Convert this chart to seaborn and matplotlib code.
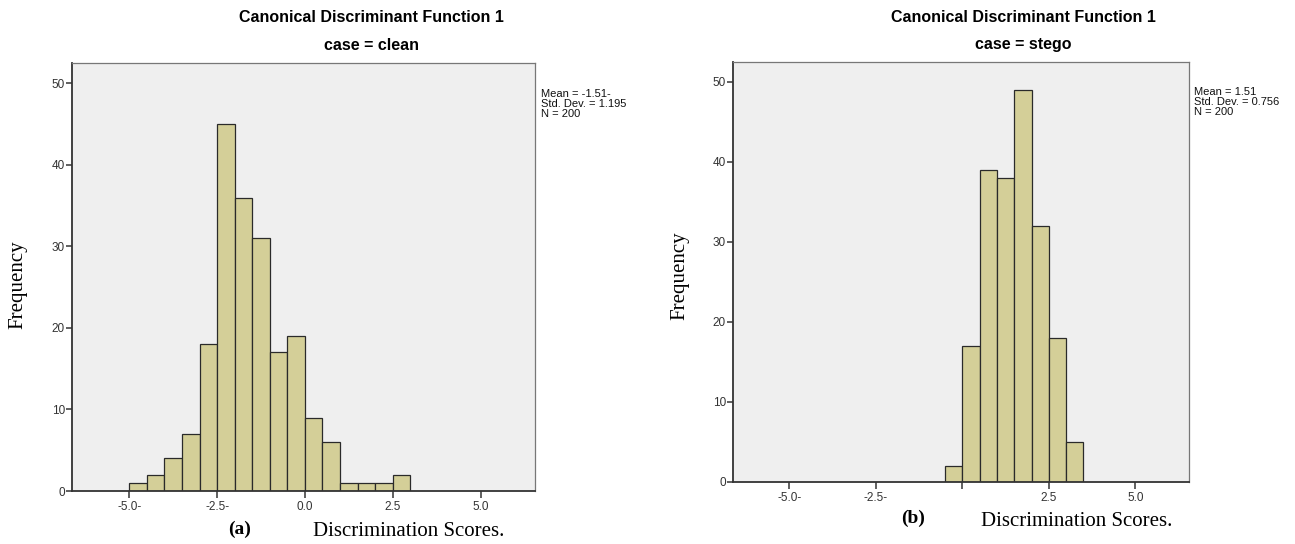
import numpy as np
import pandas as pd
import matplotlib
matplotlib.use("Agg")
import matplotlib.pyplot as plt
import seaborn as sns

clean_edges = [-5.0, -4.5, -4.0, -3.5, -3.0, -2.5, -2.0, -1.5, -1.0, -0.5,
               0.0, 0.5, 1.0, 1.5, 2.0, 2.5, 3.0]
clean_counts = [1, 2, 4, 7, 18, 45, 36, 31, 17, 19, 9, 6, 1, 1, 1, 2]

stego_edges = [-0.5, 0.0, 0.5, 1.0, 1.5, 2.0, 2.5, 3.0, 3.5]
stego_counts = [2, 17, 39, 38, 49, 32, 18, 5]

x_ticks = [-5.0, -2.5, 0.0, 2.5, 5.0]
clean_xlabels = ["-5.0-", "-2.5-", "0.0", "2.5", "5.0"]
stego_xlabels = ["-5.0-", "-2.5-", "", "2.5", "5.0"]
y_ticks = [0, 10, 20, 30, 40, 50]

clean_stats = "Mean = -1.51-\nStd. Dev. = 1.195\nN = 200"
stego_stats = "Mean = 1.51\nStd. Dev. = 0.756\nN = 200"

sns.set_theme(style="white")
plt.rcParams["font.family"] = ["Liberation Sans", "DejaVu Sans"]
plt.rcParams["text.color"] = "black"

BAR = "#D4CF98"
BG = "#EFEFEF"
W, H = 1295, 544

fig = plt.figure(figsize=(W / 100, H / 100), dpi=100)


def px_axes(x0, y0, x1, y1):
    return fig.add_axes([x0 / W, 1 - y1 / H, (x1 - x0) / W, (y1 - y0) / H])


def draw_panel(ax, edges, counts, xlabels, stats):
    e = np.array(edges)
    centers = (e[:-1] + e[1:]) / 2
    df = pd.DataFrame({"score": centers, "n": counts})
    sns.histplot(data=df, x="score", weights="n", bins=list(edges), ax=ax,
                 color=BAR, alpha=1, edgecolor="#2a2a2a", linewidth=0.9)
    ax.set_facecolor(BG)
    ax.set_xlim(-6.63, 6.55)
    ax.set_ylim(0, 52.5)
    ax.set_xticks(x_ticks)
    ax.set_xticklabels(xlabels, fontsize=8.5, color="#333333")
    ax.set_yticks(y_ticks)
    ax.set_yticklabels([str(v) for v in y_ticks], fontsize=8.5, color="#333333")
    ax.tick_params(axis="x", direction="out", length=5, width=1.2,
                   color="#444444", pad=2, bottom=True)
    ax.tick_params(axis="y", direction="out", length=4, width=1.2,
                   color="#444444", pad=1, left=True)
    for s in ax.spines.values():
        s.set_visible(True)
        s.set_color("#777777")
        s.set_linewidth(0.9)
    ax.spines["left"].set_color("#333333")
    ax.spines["left"].set_linewidth(1.3)
    ax.spines["bottom"].set_color("#333333")
    ax.spines["bottom"].set_linewidth(1.3)
    ax.set_xlabel("")
    ax.set_ylabel("")
    ax.text(1.012, 0.94, stats, transform=ax.transAxes, fontsize=8,
            va="top", ha="left", linespacing=1.0, color="#111111")


ax1 = px_axes(72, 63, 535, 491)
draw_panel(ax1, clean_edges, clean_counts, clean_xlabels, clean_stats)

ax2 = px_axes(733, 62, 1189, 482)
draw_panel(ax2, stego_edges, stego_counts, stego_xlabels, stego_stats)

# SPSS-style titles (centred over chart + stats area)
for cx, sub in [(371, "case = clean"), (1023, "case = stego")]:
    fig.text(cx / W, 1 - 18 / H, "Canonical Discriminant Function 1",
             ha="center", va="center", fontsize=11.5, fontweight="bold")
    fig.text(cx / W, 1 - 45 / H, sub, ha="center", va="center",
             fontsize=11.5, fontweight="bold")

serif = ["Liberation Serif", "DejaVu Serif"]
fig.text(18 / W, 1 - 285 / H, "Frequency", rotation=90, ha="center",
         va="center", fontsize=15, family=serif)
fig.text(680 / W, 1 - 276 / H, "Frequency", rotation=90, ha="center",
         va="center", fontsize=15, family=serif)

fig.text(240 / W, 1 - 529 / H, "(a)", ha="center", va="center",
         fontsize=14, fontweight="bold", family=serif)
fig.text(313 / W, 1 - 532 / H, "Discrimination Scores.", ha="left",
         va="center", fontsize=15, family=serif)
fig.text(913 / W, 1 - 518 / H, "(b)", ha="center", va="center",
         fontsize=14, fontweight="bold", family=serif)
fig.text(981 / W, 1 - 521 / H, "Discrimination Scores.", ha="left",
         va="center", fontsize=15, family=serif)

fig.savefig("out.png", dpi=100)
